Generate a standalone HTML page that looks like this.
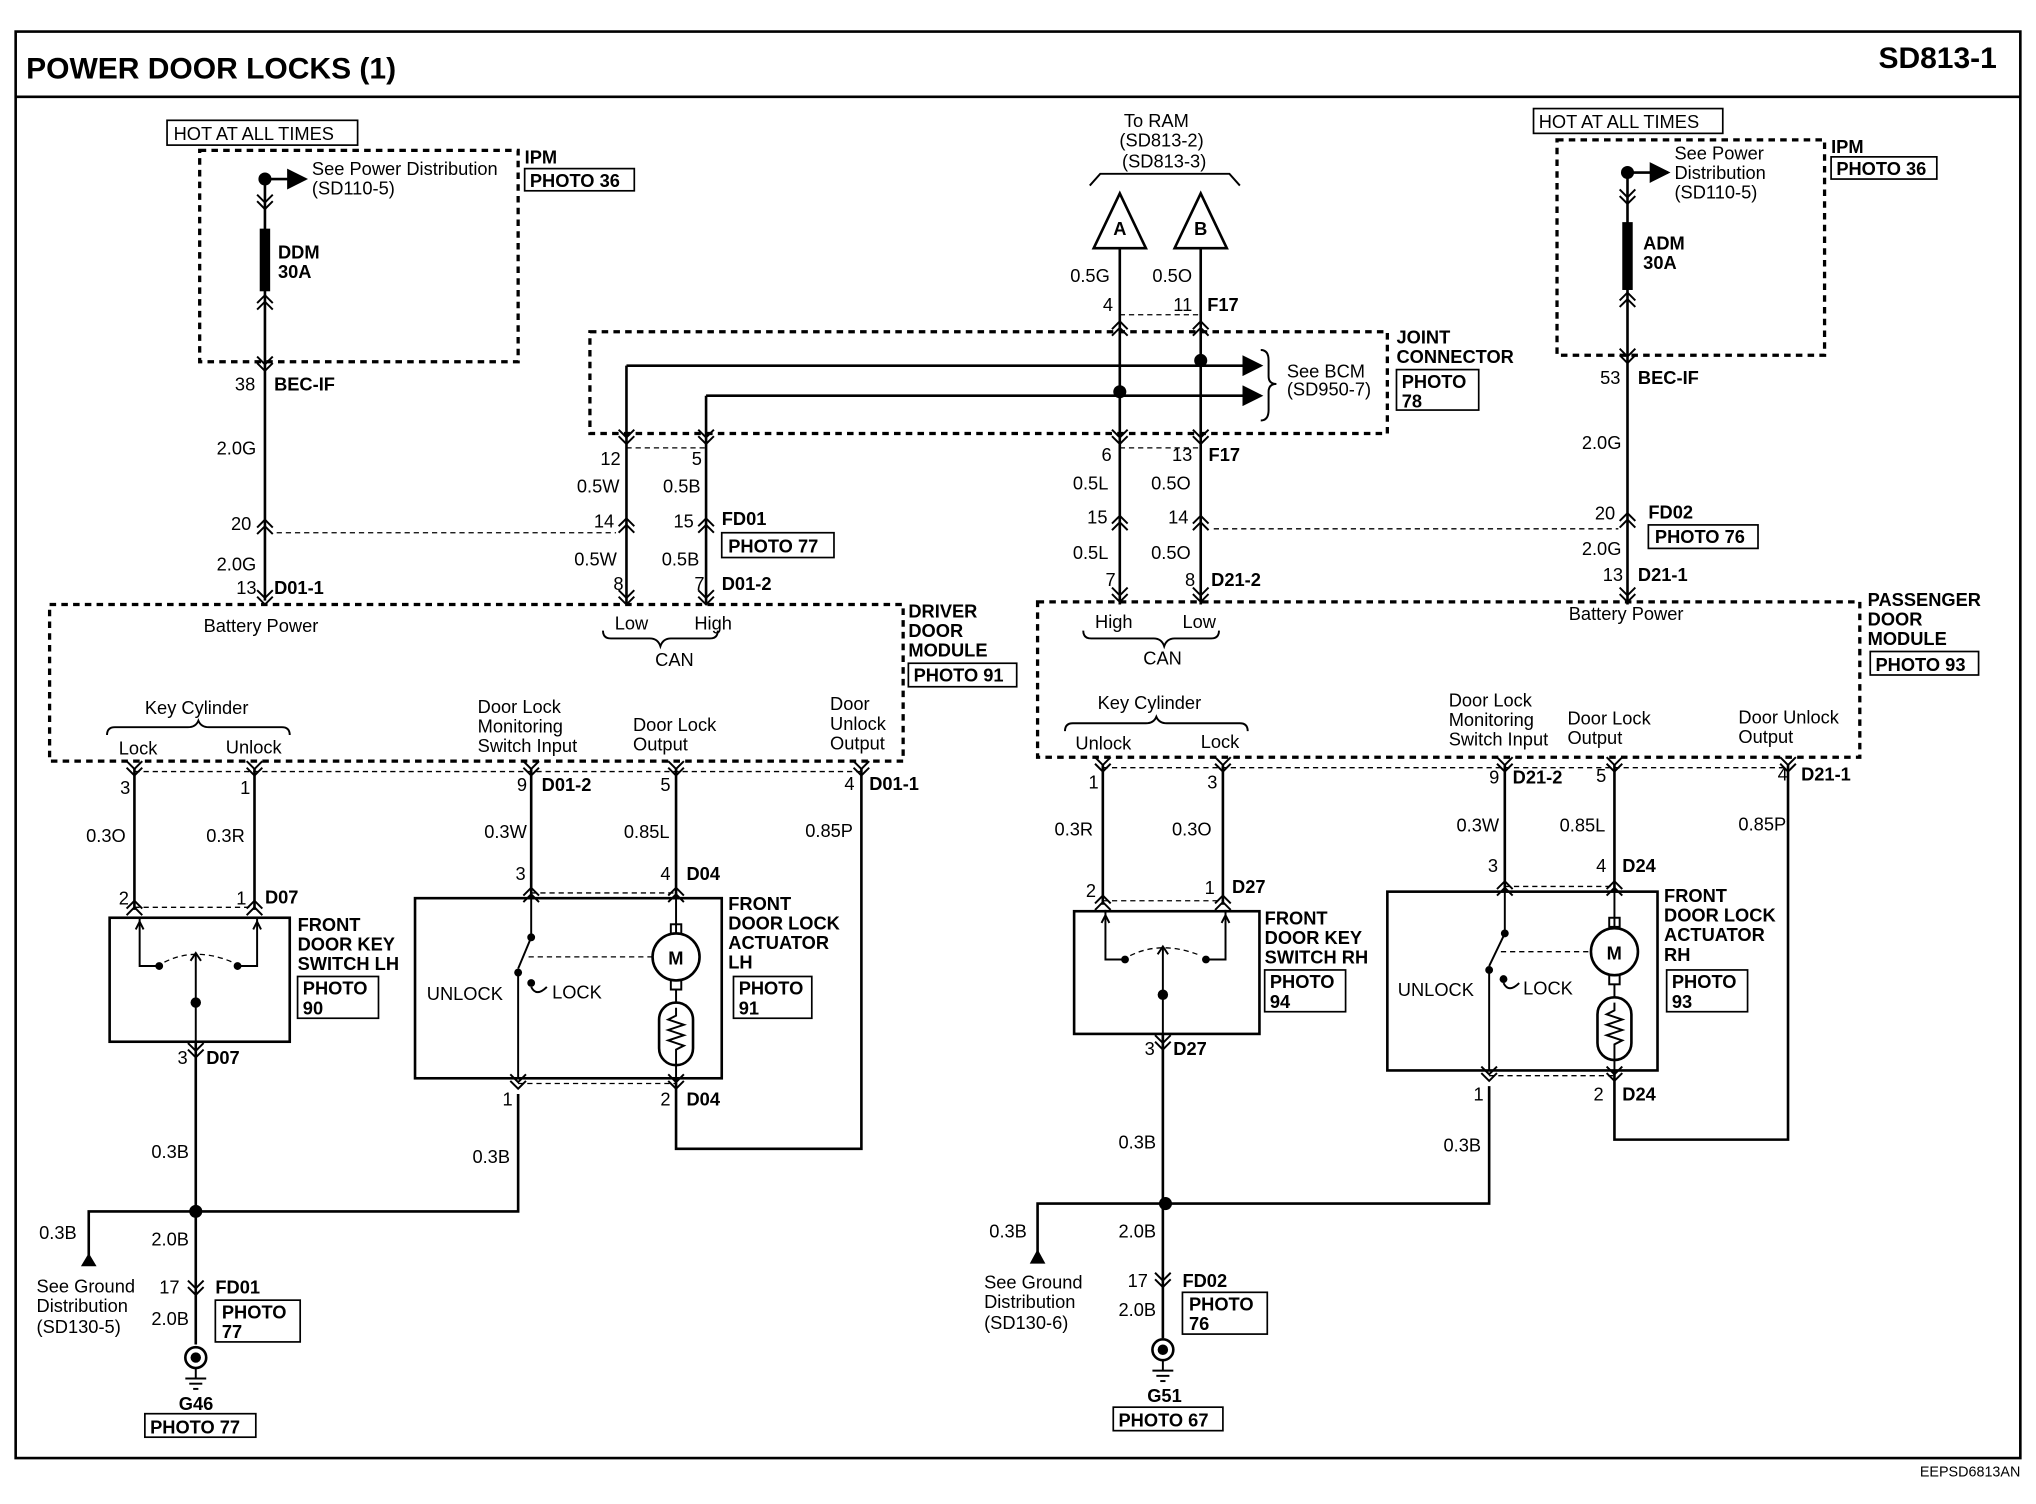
<!DOCTYPE html>
<html><head><meta charset="utf-8"><style>
html,body{margin:0;padding:0;background:#fff}
svg{display:block}
text{font-family:"Liberation Sans",Arial,sans-serif;font-size:14px;fill:#000}
.b{font-weight:bold}
.l{stroke:#000;stroke-width:2;fill:none}
.t{stroke:#000;stroke-width:1.5;fill:none}
.d{stroke:#000;stroke-width:2.5;fill:none;stroke-dasharray:5,4}
.dl{stroke:#000;stroke-width:1;fill:none;stroke-dasharray:4,3}
.bx{stroke:#000;stroke-width:1.3;fill:none}
</style></head><body>
<svg width="2036" height="1504" viewBox="0 0 1560 1152" xmlns="http://www.w3.org/2000/svg">
<defs>
<g id="cu"><polyline class="t" points="-6,6 0,0 6,6"/><polyline class="t" points="-6,11 0,5 6,11"/></g>
<g id="cd"><polyline class="t" points="-6,-6 0,0 6,-6"/><polyline class="t" points="-6,-11 0,-5 6,-11"/></g>
<marker id="ar" markerWidth="8" markerHeight="8" refX="7" refY="4" orient="auto"><path d="M0,0 L8,4 L0,8z" fill="#000"/></marker>
</defs>
<!-- frame -->
<rect x="12" y="24" width="1536" height="1093" class="l"/>
<line x1="12" y1="74" x2="1548" y2="74" class="l"/>
<text x="20" y="60" class="b" style="font-size:23px">POWER DOOR LOCKS (1)</text>
<text x="1530" y="52" class="b" text-anchor="end" style="font-size:23px">SD813-1</text>
<text x="1548" y="1131" text-anchor="end" style="font-size:11px">EEPSD6813AN</text>

<!-- LEFT fuse -->
<rect x="128" y="92" width="146" height="19" class="bx"/><text x="133" y="107">HOT AT ALL TIMES</text>
<rect x="153" y="115" width="244" height="162" class="d"/>
<text x="402" y="125" class="b">IPM</text><rect x="402" y="129" width="84" height="17" class="bx"/><text x="406" y="143" class="b">PHOTO 36</text>
<circle cx="203" cy="137" r="5"/><line x1="203" y1="137" x2="234" y2="137" class="l" marker-end="url(#ar)"/>
<text x="239" y="134">See Power Distribution</text><text x="239" y="149">(SD110-5)</text>
<line x1="203" y1="137" x2="203" y2="460" class="l"/>
<rect x="199" y="175" width="8" height="48" fill="#000"/>
<use href="#cd" x="203" y="160"/><use href="#cu" x="203" y="226"/><use href="#cd" x="203" y="284"/>
<text x="213" y="198" class="b">DDM</text><text x="213" y="213" class="b">30A</text>
<text x="180" y="299">38</text><text x="210" y="299" class="b">BEC-IF</text>
<text x="166" y="348">2.0G</text>
<use href="#cu" x="203" y="398"/><text x="177" y="406">20</text>
<line x1="212" y1="408" x2="472" y2="408" class="dl"/>
<text x="166" y="437">2.0G</text><use href="#cd" x="203" y="463"/>
<text x="181" y="455">13</text><text x="210" y="455" class="b">D01-1</text>

<!-- Joint connector -->
<text x="886" y="97" text-anchor="middle">To RAM</text><text x="890" y="112" text-anchor="middle">(SD813-2)</text><text x="892" y="128" text-anchor="middle">(SD813-3)</text>
<polyline class="t" points="835,142 843,133 942,133 950,142"/>
<polygon points="858,148 838,190 878,190" class="l"/><text x="858" y="180" text-anchor="middle" class="b">A</text>
<polygon points="920,148 900,190 940,190" class="l"/><text x="920" y="180" text-anchor="middle" class="b">B</text>
<line x1="858" y1="190" x2="858" y2="463" class="l"/><line x1="920" y1="190" x2="920" y2="463" class="l"/>
<text x="820" y="216">0.5G</text><text x="883" y="216">0.5O</text>
<text x="845" y="238">4</text><text x="899" y="238">11</text><text x="925" y="238" class="b">F17</text>
<line x1="858" y1="241" x2="920" y2="241" class="dl"/>
<use href="#cu" x="858" y="246"/><use href="#cu" x="920" y="246"/>
<rect x="452" y="254" width="611" height="78" class="d"/>
<line x1="480" y1="280" x2="966" y2="280" class="l" marker-end="url(#ar)"/>
<line x1="541" y1="303" x2="966" y2="303" class="l" marker-end="url(#ar)"/>
<line x1="480" y1="280" x2="480" y2="463" class="l"/><line x1="541" y1="303" x2="541" y2="463" class="l"/>
<circle cx="920" cy="276" r="5"/><circle cx="858" cy="300" r="5"/>
<line x1="858" y1="300" x2="858" y2="300" class="l"/>
<path d="M966,268 q6,0 6,8 v12 q0,6 6,6 q-6,0 -6,6 v14 q0,8 -6,8" class="t"/>
<text x="986" y="289">See BCM</text><text x="986" y="303">(SD950-7)</text>
<text x="1070" y="263" class="b">JOINT</text><text x="1070" y="278" class="b">CONNECTOR</text>
<rect x="1070" y="283" width="63" height="31" class="bx"/><text x="1074" y="297" class="b">PHOTO</text><text x="1074" y="312" class="b">78</text>
<use href="#cd" x="480" y="340"/><use href="#cd" x="541" y="340"/><use href="#cd" x="858" y="340"/><use href="#cd" x="920" y="340"/>
<line x1="480" y1="343" x2="541" y2="343" class="dl"/><line x1="858" y1="343" x2="920" y2="343" class="dl"/>
<text x="460" y="356">12</text><text x="530" y="356">5</text><text x="844" y="353">6</text><text x="898" y="353">13</text><text x="926" y="353" class="b">F17</text>
<text x="442" y="377">0.5W</text><text x="508" y="377">0.5B</text><text x="822" y="375">0.5L</text><text x="882" y="375">0.5O</text>
<use href="#cu" x="480" y="397"/><use href="#cu" x="541" y="397"/><use href="#cu" x="858" y="395"/><use href="#cu" x="920" y="395"/>
<text x="455" y="404">14</text><text x="516" y="404">15</text><text x="553" y="402" class="b">FD01</text>
<rect x="553" y="408" width="86" height="19" class="bx"/><text x="558" y="423" class="b">PHOTO 77</text>
<text x="833" y="401">15</text><text x="895" y="401">14</text>
<line x1="930" y1="405" x2="1240" y2="405" class="dl"/>
<text x="440" y="433">0.5W</text><text x="507" y="433">0.5B</text><text x="822" y="428">0.5L</text><text x="882" y="428">0.5O</text>
<use href="#cd" x="480" y="463"/><use href="#cd" x="541" y="463"/><use href="#cd" x="858" y="461"/><use href="#cd" x="920" y="461"/>
<text x="470" y="452">8</text><text x="532" y="452">7</text><text x="553" y="452" class="b">D01-2</text>
<text x="847" y="449">7</text><text x="908" y="449">8</text><text x="928" y="449" class="b">D21-2</text>

<!-- RIGHT fuse -->
<rect x="1175" y="83" width="145" height="19" class="bx"/><text x="1179" y="98">HOT AT ALL TIMES</text>
<rect x="1193" y="107" width="205" height="165" class="d"/>
<text x="1403" y="117" class="b">IPM</text><rect x="1403" y="120" width="81" height="17" class="bx"/><text x="1407" y="134" class="b">PHOTO 36</text>
<circle cx="1247" cy="132" r="5"/><line x1="1247" y1="132" x2="1278" y2="132" class="l" marker-end="url(#ar)"/>
<text x="1283" y="122">See Power</text><text x="1283" y="137">Distribution</text><text x="1283" y="152">(SD110-5)</text>
<line x1="1247" y1="132" x2="1247" y2="463" class="l"/>
<rect x="1243" y="170" width="8" height="52" fill="#000"/>
<use href="#cd" x="1247" y="156"/><use href="#cu" x="1247" y="224"/><use href="#cd" x="1247" y="278"/>
<text x="1259" y="191" class="b">ADM</text><text x="1259" y="206" class="b">30A</text>
<text x="1226" y="294">53</text><text x="1255" y="294" class="b">BEC-IF</text>
<text x="1212" y="344">2.0G</text>
<use href="#cu" x="1247" y="393"/><text x="1222" y="398">20</text><text x="1263" y="397" class="b">FD02</text>
<rect x="1263" y="402" width="84" height="18" class="bx"/><text x="1268" y="416" class="b">PHOTO 76</text>
<text x="1212" y="425">2.0G</text><use href="#cd" x="1247" y="461"/>
<text x="1228" y="445">13</text><text x="1255" y="445" class="b">D21-1</text>

<!-- DRIVER MODULE -->
<rect x="38" y="463" width="654" height="120" class="d"/>
<text x="156" y="484">Battery Power</text>
<text x="471" y="482">Low</text><text x="532" y="482">High</text>
<path d="M462,483 q0,6 6,6 h30 q6,0 8,6 q2,-6 8,-6 h30 q6,0 6,-6" class="t"/>
<text x="502" y="510">CAN</text>
<text x="696" y="473" class="b">DRIVER</text><text x="696" y="488" class="b">DOOR</text><text x="696" y="503" class="b">MODULE</text>
<rect x="696" y="508" width="83" height="18" class="bx"/><text x="700" y="522" class="b">PHOTO 91</text>
<text x="111" y="547">Key Cylinder</text>
<path d="M82,563 q0,-6 6,-6 h56 q6,0 8,-5 q2,5 8,5 h56 q6,0 6,6" class="t"/>
<text x="91" y="578">Lock</text><text x="173" y="577">Unlock</text>
<text x="366" y="546">Door Lock</text><text x="366" y="561">Monitoring</text><text x="366" y="576">Switch Input</text>
<text x="485" y="560">Door Lock</text><text x="485" y="575">Output</text>
<text x="636" y="544">Door</text><text x="636" y="559">Unlock</text><text x="636" y="574">Output</text>
<line x1="103" y1="588" x2="103" y2="697" class="l"/><line x1="195" y1="588" x2="195" y2="697" class="l"/>
<use href="#cd" x="103" y="594"/><use href="#cd" x="195" y="594"/><line x1="103" y1="591" x2="660" y2="591" class="dl"/>
<text x="92" y="608">3</text><text x="184" y="608">1</text>
<text x="66" y="645">0.3O</text><text x="158" y="645">0.3R</text>
<use href="#cu" x="103" y="690"/><use href="#cu" x="195" y="690"/><line x1="103" y1="695" x2="195" y2="695" class="dl"/>
<text x="91" y="693">2</text><text x="181" y="693">1</text><text x="203" y="692" class="b">D07</text>
<rect x="84" y="703" width="138" height="95" class="l"/>
<polyline class="t" points="107,702 107,740 122,740"/><polyline class="t" points="197,702 197,740 182,740"/>
<path d="M104,712 l3,-6 l3,6 M194,712 l3,-6 l3,6" class="t"/>
<circle cx="122" cy="740" r="3"/><circle cx="182" cy="740" r="3"/>
<path d="M126,737 q24,-12 52,0" class="dl"/>
<line x1="150" y1="730" x2="150" y2="808" class="t"/><circle cx="150" cy="768" r="4"/>
<path d="M146,736 l4,-6 l4,6" class="t"/>
<text x="228" y="713" class="b">FRONT</text><text x="228" y="728" class="b">DOOR KEY</text><text x="228" y="743" class="b">SWITCH LH</text>
<rect x="228" y="748" width="62" height="32" class="bx"/><text x="232" y="762" class="b">PHOTO</text><text x="232" y="777" class="b">90</text>
<use href="#cd" x="150" y="810"/><text x="136" y="815">3</text><text x="158" y="815" class="b">D07</text>
<line x1="150" y1="798" x2="150" y2="1030" class="l"/>
<text x="116" y="887">0.3B</text>
<circle cx="150" cy="928" r="5"/>
<polyline class="l" points="68,965 68,928 397,928 397,838"/>
<polygon points="62,970 68,960 74,970" fill="#000"/>
<text x="30" y="949">0.3B</text><text x="116" y="954">2.0B</text>
<text x="28" y="990">See Ground</text><text x="28" y="1005">Distribution</text><text x="28" y="1021">(SD130-5)</text>
<use href="#cd" x="150" y="992"/><text x="122" y="991">17</text><text x="165" y="991" class="b">FD01</text>
<rect x="165" y="996" width="65" height="32" class="bx"/><text x="170" y="1010" class="b">PHOTO</text><text x="170" y="1025" class="b">77</text>
<text x="116" y="1015">2.0B</text>
<circle cx="150" cy="1040" r="8" class="l"/><circle cx="150" cy="1040" r="4"/>
<line x1="150" y1="1048" x2="150" y2="1056" class="t"/><line x1="142" y1="1056" x2="158" y2="1056" class="t"/><line x1="145" y1="1060" x2="155" y2="1060" class="t"/><line x1="148" y1="1064" x2="152" y2="1064" class="t"/>
<text x="137" y="1080" class="b">G46</text>
<rect x="111" y="1083" width="85" height="18" class="bx"/><text x="115" y="1098" class="b">PHOTO 77</text>
<!-- actuator LH -->
<line x1="407" y1="588" x2="407" y2="688" class="l"/><line x1="518" y1="588" x2="518" y2="688" class="l"/>
<use href="#cd" x="407" y="594"/><use href="#cd" x="518" y="594"/><use href="#cd" x="660" y="594"/>
<text x="396" y="606">9</text><text x="415" y="606" class="b">D01-2</text><text x="506" y="606">5</text><text x="647" y="605">4</text><text x="666" y="605" class="b">D01-1</text>
<polyline class="l" points="660,588 660,880 518,880 518,826"/>
<text x="371" y="642">0.3W</text><text x="478" y="642">0.85L</text><text x="617" y="641">0.85P</text>
<use href="#cu" x="407" y="680"/><use href="#cu" x="518" y="680"/><line x1="407" y1="684" x2="518" y2="684" class="dl"/>
<text x="395" y="674">3</text><text x="506" y="674">4</text><text x="526" y="674" class="b">D04</text>
<rect x="318" y="688" width="235" height="138" class="l"/>
<polyline class="t" points="407,688 407,718"/><circle cx="407" cy="718" r="3"/><line x1="407" y1="718" x2="397" y2="742" class="t"/>
<circle cx="397" cy="745" r="3"/><circle cx="407" cy="753" r="3"/><path d="M407,756 q4,8 12,0" class="t"/>
<line x1="397" y1="745" x2="397" y2="826" class="t"/>
<line x1="405" y1="733" x2="500" y2="733" class="dl"/>
<line x1="518" y1="688" x2="518" y2="715" class="t"/>
<circle cx="518" cy="733" r="18" class="l"/><text x="512" y="739" class="b">M</text>
<rect x="514" y="708" width="8" height="7" class="t"/><rect x="514" y="751" width="8" height="7" class="t"/>
<line x1="518" y1="758" x2="518" y2="768" class="t"/>
<rect x="505" y="768" width="26" height="48" rx="13" class="l"/>
<polyline class="t" points="518,772 518,778 512,781 524,785 512,789 524,793 512,797 524,801 518,804 518,826"/>
<text x="327" y="766">UNLOCK</text><text x="423" y="765">LOCK</text>
<text x="558" y="697" class="b">FRONT</text><text x="558" y="712" class="b">DOOR LOCK</text><text x="558" y="727" class="b">ACTUATOR</text><text x="558" y="742" class="b">LH</text>
<rect x="562" y="748" width="60" height="32" class="bx"/><text x="566" y="762" class="b">PHOTO</text><text x="566" y="777" class="b">91</text>
<use href="#cd" x="397" y="834"/><use href="#cd" x="518" y="834"/><line x1="397" y1="830" x2="518" y2="830" class="dl"/>
<text x="385" y="847">1</text><text x="506" y="847">2</text><text x="526" y="847" class="b">D04</text>
<text x="362" y="891">0.3B</text>

<!-- PASSENGER MODULE -->
<rect x="795" y="461" width="630" height="119" class="d"/>
<text x="1202" y="475">Battery Power</text>
<text x="839" y="481">High</text><text x="906" y="481">Low</text>
<path d="M830,483 q0,6 6,6 h48 q6,0 8,6 q2,-6 8,-6 h28 q6,0 6,-6" class="t"/>
<text x="876" y="509">CAN</text>
<text x="1431" y="464" class="b">PASSENGER</text><text x="1431" y="479" class="b">DOOR</text><text x="1431" y="494" class="b">MODULE</text>
<rect x="1433" y="499" width="83" height="18" class="bx"/><text x="1437" y="514" class="b">PHOTO 93</text>
<text x="841" y="543">Key Cylinder</text>
<path d="M816,560 q0,-6 6,-6 h56 q6,0 8,-5 q2,5 8,5 h56 q6,0 6,6" class="t"/>
<text x="824" y="574">Unlock</text><text x="920" y="573">Lock</text>
<text x="1110" y="541">Door Lock</text><text x="1110" y="556">Monitoring</text><text x="1110" y="571">Switch Input</text>
<text x="1201" y="555">Door Lock</text><text x="1201" y="570">Output</text>
<text x="1332" y="554">Door Unlock</text><text x="1332" y="569">Output</text>
<line x1="845" y1="585" x2="845" y2="693" class="l"/><line x1="937" y1="585" x2="937" y2="693" class="l"/>
<use href="#cd" x="845" y="591"/><use href="#cd" x="937" y="591"/><line x1="845" y1="588" x2="1370" y2="588" class="dl"/>
<text x="834" y="604">1</text><text x="925" y="604">3</text>
<text x="808" y="640">0.3R</text><text x="898" y="640">0.3O</text>
<use href="#cu" x="845" y="686"/><use href="#cu" x="937" y="686"/><line x1="845" y1="690" x2="937" y2="690" class="dl"/>
<text x="832" y="687">2</text><text x="923" y="685">1</text><text x="944" y="684" class="b">D27</text>
<rect x="823" y="698" width="142" height="94" class="l"/>
<polyline class="t" points="847,697 847,735 862,735"/><polyline class="t" points="939,697 939,735 924,735"/>
<path d="M844,707 l3,-6 l3,6 M936,707 l3,-6 l3,6" class="t"/>
<circle cx="862" cy="735" r="3"/><circle cx="924" cy="735" r="3"/>
<path d="M866,732 q24,-12 54,0" class="dl"/>
<line x1="891" y1="725" x2="891" y2="802" class="t"/><circle cx="891" cy="762" r="4"/>
<path d="M887,731 l4,-6 l4,6" class="t"/>
<text x="969" y="708" class="b">FRONT</text><text x="969" y="723" class="b">DOOR KEY</text><text x="969" y="738" class="b">SWITCH RH</text>
<rect x="969" y="743" width="62" height="32" class="bx"/><text x="973" y="757" class="b">PHOTO</text><text x="973" y="772" class="b">94</text>
<use href="#cd" x="891" y="804"/><text x="877" y="808">3</text><text x="899" y="808" class="b">D27</text>
<line x1="891" y1="792" x2="891" y2="1025" class="l"/>
<text x="857" y="880">0.3B</text>
<circle cx="893" cy="922" r="5"/>
<polyline class="l" points="795,962 795,922 1141,922 1141,832"/>
<polygon points="789,968 795,957 801,968" fill="#000"/>
<text x="758" y="948">0.3B</text><text x="857" y="948">2.0B</text>
<text x="754" y="987">See Ground</text><text x="754" y="1002">Distribution</text><text x="754" y="1018">(SD130-6)</text>
<use href="#cd" x="891" y="986"/><text x="864" y="986">17</text><text x="906" y="986" class="b">FD02</text>
<rect x="906" y="990" width="65" height="32" class="bx"/><text x="911" y="1004" class="b">PHOTO</text><text x="911" y="1019" class="b">76</text>
<text x="857" y="1008">2.0B</text>
<circle cx="891" cy="1034" r="8" class="l"/><circle cx="891" cy="1034" r="4"/>
<line x1="891" y1="1042" x2="891" y2="1050" class="t"/><line x1="883" y1="1050" x2="899" y2="1050" class="t"/><line x1="886" y1="1054" x2="896" y2="1054" class="t"/><line x1="889" y1="1058" x2="893" y2="1058" class="t"/>
<text x="879" y="1074" class="b">G51</text>
<rect x="853" y="1078" width="84" height="18" class="bx"/><text x="857" y="1093" class="b">PHOTO 67</text>
<!-- actuator RH -->
<line x1="1153" y1="585" x2="1153" y2="683" class="l"/><line x1="1237" y1="585" x2="1237" y2="683" class="l"/>
<use href="#cd" x="1153" y="591"/><use href="#cd" x="1237" y="591"/><use href="#cd" x="1370" y="591"/>
<text x="1141" y="600">9</text><text x="1159" y="600" class="b">D21-2</text><text x="1223" y="599">5</text><text x="1362" y="598">4</text><text x="1380" y="598" class="b">D21-1</text>
<polyline class="l" points="1370,585 1370,873 1237,873 1237,820"/>
<text x="1116" y="637">0.3W</text><text x="1195" y="637">0.85L</text><text x="1332" y="636">0.85P</text>
<use href="#cu" x="1153" y="675"/><use href="#cu" x="1237" y="675"/><line x1="1153" y1="679" x2="1237" y2="679" class="dl"/>
<text x="1140" y="668">3</text><text x="1223" y="668">4</text><text x="1243" y="668" class="b">D24</text>
<rect x="1063" y="683" width="207" height="137" class="l"/>
<polyline class="t" points="1153,683 1153,715"/><circle cx="1153" cy="715" r="3"/><line x1="1153" y1="715" x2="1141" y2="740" class="t"/>
<circle cx="1141" cy="743" r="3"/><circle cx="1152" cy="750" r="3"/><path d="M1152,753 q4,8 12,0" class="t"/>
<line x1="1141" y1="743" x2="1141" y2="820" class="t"/>
<line x1="1150" y1="729" x2="1218" y2="729" class="dl"/>
<line x1="1237" y1="683" x2="1237" y2="710" class="t"/>
<circle cx="1237" cy="729" r="18" class="l"/><text x="1231" y="735" class="b">M</text>
<rect x="1233" y="703" width="8" height="7" class="t"/><rect x="1233" y="747" width="8" height="7" class="t"/>
<line x1="1237" y1="754" x2="1237" y2="764" class="t"/>
<rect x="1224" y="764" width="26" height="48" rx="13" class="l"/>
<polyline class="t" points="1237,768 1237,774 1231,777 1243,781 1231,785 1243,789 1231,793 1243,797 1237,800 1237,820"/>
<text x="1071" y="763">UNLOCK</text><text x="1167" y="762">LOCK</text>
<text x="1275" y="691" class="b">FRONT</text><text x="1275" y="706" class="b">DOOR LOCK</text><text x="1275" y="721" class="b">ACTUATOR</text><text x="1275" y="736" class="b">RH</text>
<rect x="1277" y="743" width="62" height="32" class="bx"/><text x="1281" y="757" class="b">PHOTO</text><text x="1281" y="772" class="b">93</text>
<use href="#cd" x="1141" y="828"/><use href="#cd" x="1237" y="828"/><line x1="1141" y1="824" x2="1237" y2="824" class="dl"/>
<text x="1129" y="843">1</text><text x="1221" y="843">2</text><text x="1243" y="843" class="b">D24</text>
<text x="1106" y="882">0.3B</text>
</svg>
</body></html>
